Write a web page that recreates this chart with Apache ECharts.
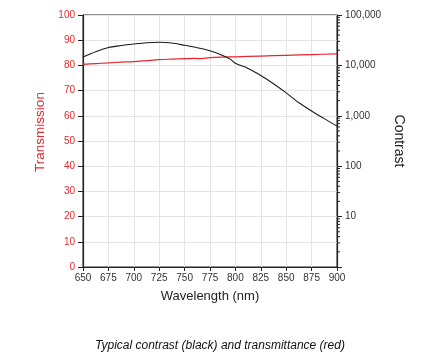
<!DOCTYPE html>
<html>
<head>
<meta charset="utf-8">
<script src="https://cdn.jsdelivr.net/npm/echarts@6/dist/echarts.min.js"></script>
<style>html,body{margin:0;padding:0;background:#fff}#c{width:440px;height:360px}</style>
</head>
<body>
<div id="c"></div>
<script>
// Data
var wavelengths = [650, 662.5, 675, 687.5, 700, 712.5, 725, 737.5, 750, 762.5, 775, 787.5, 795, 800, 812.5, 825, 837.5, 850, 862.5, 875, 887.5, 900];
var contrast    = [14600, 18600, 22600, 24800, 26600, 28200, 28800, 27900, 25100, 22400, 19500, 15800, 13300, 11000, 8710, 6310, 4320, 2850, 1820, 1250, 880, 624];
var transWl     = [650, 662.5, 675, 687.5, 700, 712.5, 725, 737.5, 750, 760, 765, 775, 787.5, 800, 825, 850, 875, 900];
var transmission = [80.4, 80.7, 81.0, 81.3, 81.5, 81.9, 82.3, 82.5, 82.7, 82.8, 82.65, 83.1, 83.3, 83.4, 83.7, 84.0, 84.3, 84.6];
var contrastTicks = [1, 10, 100, 1000, 10000, 100000];
var captionText = 'Typical contrast (black) and transmittance (red)';

var RED = '#e8262c';
var FONT = 'Liberation Sans, Arial, Helvetica, sans-serif';

var minorTickVals = [];
for (var k = 0; k < contrastTicks.length - 1; k++) {
  for (var m = 2; m <= 9; m++) minorTickVals.push([900, m * contrastTicks[k]]);
}

function fmt(v) {
  if (v <= 1) return '';
  return String(Math.round(v)).replace(/\B(?=(\d{3})+(?!\d))/g, ',');
}

var chart = echarts.init(document.getElementById('c'), null, {renderer: 'canvas'});
chart.setOption({
  animation: false,
  backgroundColor: '#fff',
  textStyle: {fontFamily: FONT},
  title: {
    text: captionText,
    left: 'center',
    top: 335,
    textStyle: {fontFamily: FONT, fontSize: 12, fontStyle: 'italic', fontWeight: 'normal', color: '#111'}
  },
  grid: {left: 83, right: 103, top: 15, bottom: 93, show: true, borderColor: '#222', borderWidth: 1, backgroundColor: 'transparent'},
  xAxis: {
    type: 'value', min: 650, max: 900, interval: 25,
    name: 'Wavelength (nm)', nameLocation: 'middle', nameGap: 23,
    nameTextStyle: {fontFamily: FONT, fontSize: 13, color: '#222'},
    axisLine: {show: true, lineStyle: {color: '#222', width: 1.2}},
    axisTick: {show: true, length: 4, lineStyle: {color: '#222'}},
    axisLabel: {fontFamily: FONT, fontSize: 10, color: '#333', margin: 6},
    splitLine: {show: true, lineStyle: {color: '#e4e4e4', width: 1}}
  },
  yAxis: [{
    type: 'value', min: 0, max: 100, interval: 10, position: 'left',
    name: 'Transmission', nameLocation: 'middle', nameGap: 31, nameRotate: 90,
    nameTextStyle: {fontFamily: FONT, fontSize: 13.5, color: RED, padding: [0, 0, 0, 18]},
    axisLine: {show: true, lineStyle: {color: '#222', width: 1.2}},
    axisTick: {show: true, length: 5, lineStyle: {color: '#222'}},
    axisLabel: {fontFamily: FONT, fontSize: 10, color: RED, margin: 8},
    splitLine: {show: true, lineStyle: {color: '#e4e4e4', width: 1}}
  }, {
    type: 'log', logBase: 10, min: 1, max: 100000, position: 'right',
    name: 'Contrast', nameLocation: 'middle', nameGap: 55, nameRotate: -90,
    nameTextStyle: {fontFamily: FONT, fontSize: 14, color: '#222'},
    axisLine: {show: true, lineStyle: {color: '#222', width: 1.2}},
    axisTick: {show: true, length: 5, lineStyle: {color: '#222'}},
    axisLabel: {fontFamily: FONT, fontSize: 10, color: '#333', margin: 8, formatter: fmt},
    splitLine: {show: false}
  }],
  series: [{
    name: 'Transmission', type: 'line', yAxisIndex: 0,
    data: transWl.map(function (w, i) { return [w, transmission[i]]; }),
    showSymbol: false, smooth: 0.3,
    lineStyle: {color: RED, width: 1.2}, itemStyle: {color: RED}
  }, {
    name: 'Contrast', type: 'line', yAxisIndex: 1,
    data: wavelengths.map(function (w, i) { return [w, contrast[i]]; }),
    showSymbol: false, smooth: 0.3,
    lineStyle: {color: '#1a1a1a', width: 1.1}, itemStyle: {color: '#1a1a1a'}
  }, {
    name: 'minorTicks', type: 'custom', yAxisIndex: 1, silent: true, clip: false,
    data: minorTickVals,
    renderItem: function (params, api) {
      var p = api.coord([api.value(0), api.value(1)]);
      return {type: 'line', shape: {x1: p[0], y1: p[1], x2: p[0] + 3, y2: p[1]}, style: {stroke: '#222', lineWidth: 1}};
    }
  }]
});
</script>
</body>
</html>
